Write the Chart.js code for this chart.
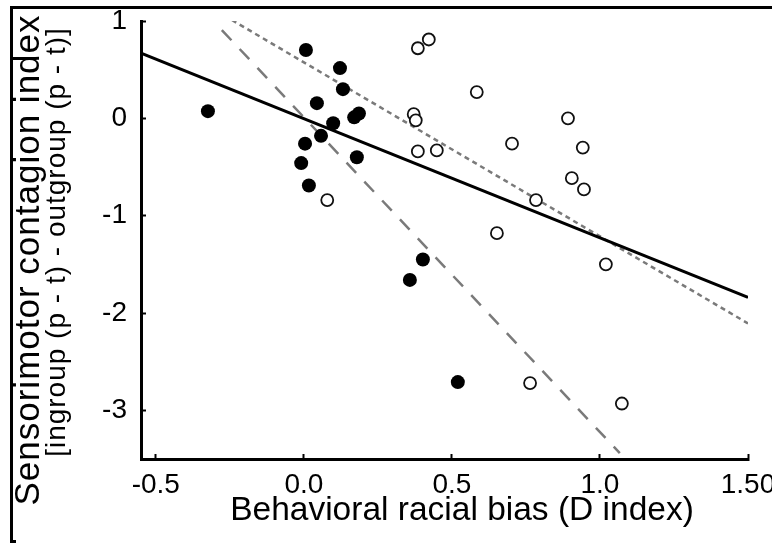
<!DOCTYPE html>
<html>
<head>
<meta charset="utf-8">
<script src="https://cdn.jsdelivr.net/npm/chart.js@4"></script>
<style>
  html, body { margin: 0; padding: 0; background: #fff; }
  #wrap { position: relative; width: 772px; height: 545px; overflow: hidden; }
  #chart { position: absolute; left: 0; top: 0; }
  #frame { position: absolute; left: 10px; top: 6px; width: 900px; height: 534px;
           border-left: 3px solid #000; border-top: 3px solid #000; }
  #foot { position: absolute; left: 10px; top: 540px; width: 6px; height: 3px; background: #000; }
</style>
</head>
<body>
<div id="wrap">
  <canvas id="chart" width="800" height="545"></canvas>
  <div id="frame"></div>
  <div id="foot"></div>
</div>
<script>
// ---------------- DATA ----------------

// filled dots
const filledX = [-0.324, 0.007, 0.122, 0.132, 0.044, 0.17, 0.186, 0.099, 0.058, 0.004, 0.179, -0.009, 0.017, 0.402, 0.358, 0.52];
const filledY = [0.074, 0.702, 0.516, 0.30, 0.156, 0.01, 0.05, -0.05, -0.18, -0.26, -0.40, -0.46, -0.69, -1.45, -1.66, -2.71];

// open circles
const openX = [0.079, 0.385, 0.422, 0.584, 0.371, 0.378, 0.385, 0.449, 0.703, 0.892, 0.942, 0.905, 0.946, 0.784, 0.652, 1.02, 0.764, 1.074];
const openY = [-0.84, 0.72, 0.81, 0.27, 0.043, -0.02, -0.34, -0.33, -0.26, 0.0, -0.30, -0.615, -0.73, -0.84, -1.18, -1.50, -2.72, -2.93];

// regression lines (end points)
const solidLineX = [-0.55, 1.5];
const solidLineY = [0.671, -1.84];
const dashedLineX = [-0.277, 1.067];
const dashedLineY = [0.907, -3.44];
const dottedLineX = [-0.243, 1.5];
const dottedLineY = [1.01, -2.107];

// axes
const xTickValues = [-0.5, 0, 0.5, 1.0, 1.5];
const xTickLabels = ["-0.5", "0.0", "0.5", "1.0", "1.50"];
const yTickValues = [-3, -2, -1, 0, 1];
const yTickLabels = ["-3", "-2", "-1", "0", "1"];

const xTitle = "Behavioral racial bias (D index)";
const yTitle1 = "Sensorimotor contagion index";
const yTitle2 = "[ingroup (p - t) - outgroup (p - t)]";

const FONT = "'Liberation Sans', Arial, Helvetica, sans-serif";

function toPoints(xs, ys) {
  return xs.map((x, i) => ({ x: x, y: ys[i] }));
}

// ---------------- TITLES ----------------

function drawText(ctx, text, x, y, size, spacing, rotate) {
  ctx.save();
  ctx.fillStyle = "#000";
  ctx.textAlign = "center";
  ctx.textBaseline = "alphabetic";
  ctx.font = size + "px " + FONT;
  if ("letterSpacing" in ctx) ctx.letterSpacing = spacing + "px";
  ctx.translate(x, y);
  if (rotate) ctx.rotate(-Math.PI / 2);
  ctx.fillText(text, 0, 0);
  ctx.restore();
}

const titlesPlugin = {
  id: "titles",
  afterDraw(chart) {
    const ctx = chart.ctx;
    drawText(ctx, xTitle, 462, 520, 33.5, 0, false);
    drawText(ctx, yTitle1, 39, 260, 35, 1, true);
    drawText(ctx, yTitle2, 65, 242, 28, 1, true);
  }
};

// ---------------- CHART ----------------

let ctx = document.getElementById("chart").getContext("2d");

new Chart(ctx, {
  type: "scatter",
  data: {
    datasets: [
      {
        label: "filled",
        data: toPoints(filledX, filledY),
        pointRadius: 7,
        pointBackgroundColor: "#000",
        pointBorderWidth: 0,
        showLine: false
      },
      {
        label: "open",
        data: toPoints(openX, openY),
        pointRadius: 6,
        pointBackgroundColor: "#fff",
        pointBorderColor: "#111",
        pointBorderWidth: 1.8,
        showLine: false
      },
      {
        label: "solid",
        data: toPoints(solidLineX, solidLineY),
        showLine: true,
        borderColor: "#000",
        borderWidth: 3,
        pointRadius: 0
      },
      {
        label: "dashed",
        data: toPoints(dashedLineX, dashedLineY),
        showLine: true,
        borderColor: "#7a7a7a",
        borderWidth: 2.5,
        borderDash: [14, 12],
        pointRadius: 0
      },
      {
        label: "dotted",
        data: toPoints(dottedLineX, dottedLineY),
        showLine: true,
        borderColor: "#7a7a7a",
        borderWidth: 2.5,
        borderDash: [5, 4],
        pointRadius: 0
      }
    ]
  },
  options: {
    responsive: false,
    animation: false,
    devicePixelRatio: 1,
    layout: { padding: { top: 21, right: 52, left: 0, bottom: 0 } },
    plugins: {
      legend: { display: false },
      tooltip: { enabled: false }
    },
    scales: {
      x: {
        type: "linear",
        min: -0.55,
        max: 1.5,
        afterBuildTicks: (s) => { s.ticks = xTickValues.map(v => ({ value: v })); },
        afterFit: (s) => { s.height = 86; },
        border: { display: true, width: 3, color: "#000" },
        grid: { drawOnChartArea: false, drawTicks: true, tickLength: -5, tickWidth: 2, tickColor: "#000" },
        ticks: {
          color: "#000",
          padding: 14,
          maxRotation: 0,
          font: { family: FONT, size: 28 },
          callback: (value, index) => xTickLabels[index]
        }
      },
      y: {
        type: "linear",
        min: -3.5,
        max: 1,
        afterBuildTicks: (s) => { s.ticks = yTickValues.map(v => ({ value: v })); },
        afterFit: (s) => {
          s.width = 141;
          // keep the tick padding from pushing the top down
          s.paddingTop = 0;
          s.paddingBottom = 0;
        },
        border: { display: true, width: 3, color: "#000" },
        grid: { drawOnChartArea: false, drawTicks: true, tickLength: -5, tickWidth: 2, tickColor: "#000" },
        ticks: {
          color: "#000",
          padding: 19,
          font: { family: FONT, size: 28 },
          callback: (value, index) => yTickLabels[index]
        }
      }
    }
  },
  plugins: [titlesPlugin]
});
</script>
</body>
</html>
